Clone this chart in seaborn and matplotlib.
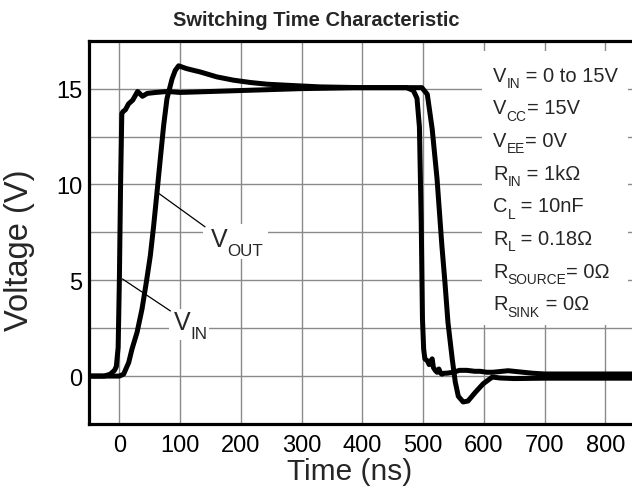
import matplotlib
matplotlib.use("Agg")
import matplotlib.pyplot as plt
from matplotlib.patches import Rectangle
import seaborn as sns

# ---------------- data ----------------
title = "Switching Time Characteristic"
x_label = "Time (ns)"
y_label = "Voltage (V)"

t_in = [-50, -25, -15, -8, -5, -2, 0, 2, 4, 6, 10, 15, 22, 30, 38, 46, 60, 79, 100,
        150, 200, 300, 400, 473, 484, 490, 494, 497, 499, 501, 503, 507, 510, 513,
        515, 517, 520, 523, 526, 529, 531, 535, 539, 550, 560, 572, 585, 594, 605,
        615, 640, 680, 700, 750, 800, 850]
v_in = [0, 0, 0.1, 0.3, 0.5, 1.5, 5, 10, 13.7, 13.8, 13.9, 14.2, 14.4, 14.85, 14.6,
        14.75, 14.8, 14.85, 14.8, 14.85, 14.9, 15.0, 15.05, 15.05, 14.9, 14.5, 13,
        8, 3, 1.4, 0.9, 0.8, 0.6, 0.8, 0.9, 0.45, 0.3, 0.2, 0.37, 0.15, 0.1, 0.15,
        0.15, 0.2, 0.3, 0.3, 0.25, 0.25, 0.2, 0.2, 0.28, 0.15, 0.11, 0.11, 0.11, 0.11]

t_out = [-50, 0, 7, 15.4, 20.8, 29.1, 37.3, 44.4, 51, 56.5, 62, 67.4, 72.9, 78.4,
         86.7, 92, 97.6, 110, 120, 133, 160.7, 188, 215.5, 243, 298, 330.6, 400,
         498, 507, 515, 523, 531, 536, 541, 548, 553, 558, 566, 574, 586, 599, 614,
         627, 650, 700, 750, 800, 850]
v_out = [0, 0, 0.1, 0.71, 1.41, 2.28, 3.5, 4.9, 6.29, 7.86, 9.6, 11.34, 13.08, 14.48,
         15.5, 15.95, 16.19, 16.05, 15.97, 15.87, 15.61, 15.44, 15.32, 15.23, 15.14,
         15.09, 15.05, 15.05, 14.7, 12.9, 10.3, 6.8, 4.9, 2.8, 0.9, -0.3, -1.05,
         -1.35, -1.3, -0.85, -0.4, -0.05, -0.1, -0.13, -0.11, -0.11, -0.11, -0.11]

x_ticks = [0, 100, 200, 300, 400, 500, 600, 700, 800]
y_ticks = [0, 5, 10, 15]
y_minor = [2.5, 7.5, 12.5]

# parameter list: (symbol, subscript, remainder)
param_sym = ["V", "V", "V", "R", "C", "R", "R", "R"]
param_sub = ["IN", "CC", "EE", "IN", "L", "L", "SOURCE", "SINK"]
param_rest = [" = 0 to 15V", "= 15V", "= 0V", " = 1kΩ", " = 10nF", " = 0.18Ω",
              "= 0Ω", " = 0Ω"]

# ---------------- style ----------------
sns.set_theme(style="white")
plt.rcParams['font.family'] = ['Liberation Sans', 'DejaVu Sans']

W, H = 632, 489
fig = plt.figure(figsize=(W / 100, H / 100), dpi=100)
ax_l, ax_r, ax_t, ax_b = 89, 632, 41.7, 425
ax = fig.add_axes([ax_l / W, (H - ax_b) / H, (ax_r - ax_l) / W, (ax_b - ax_t) / H])

ax.set_xlim(-50, 844)
ax.set_ylim(-2.5, 17.5)
ax.set_axisbelow(True)
ax.set_xticks(x_ticks)
ax.set_yticks(y_ticks)
ax.set_yticks(y_minor, minor=True)
ax.grid(True, which='both', color='#8a8a8a', linewidth=1.0)
ax.tick_params(axis='both', which='both', length=0, labelsize=17, colors='black')
ax.tick_params(axis='x', pad=7)
ax.tick_params(axis='y', pad=5)

for s in ['left', 'bottom', 'top']:
    ax.spines[s].set_visible(True)
    ax.spines[s].set_color('black')
    ax.spines[s].set_linewidth(2.3)
ax.spines['right'].set_visible(False)

# white areas that interrupt the grid behind the texts
ax.add_patch(Rectangle((597, 2.67), 240, 14.27, facecolor='white',
                       edgecolor='none', zorder=1))
ax.add_patch(Rectangle((138, 6.1), 106, 1.85, facecolor='white',
                       edgecolor='none', zorder=1))
ax.add_patch(Rectangle((81, 1.9), 67, 1.6, facecolor='white',
                       edgecolor='none', zorder=1))

# curves
sns.lineplot(x=t_out, y=v_out, ax=ax, color='black', linewidth=3.6,
             sort=False, estimator=None, zorder=3,
             solid_joinstyle='round', solid_capstyle='round')
sns.lineplot(x=t_in, y=v_in, ax=ax, color='black', linewidth=3.6,
             sort=False, estimator=None, zorder=3,
             solid_joinstyle='round', solid_capstyle='round')


def sub_label(x, y, main, sub, rest, size):
    """Text with a large, low subscript, as in the reference."""
    subsize = size * 0.68
    drop = size * 0.34
    t1 = ax.text(x, y, main, fontsize=size, va='baseline', ha='left', zorder=5)
    off = 0.212 * (size - subsize) - drop
    t2 = ax.annotate(sub, xy=(1, 0), xycoords=t1, xytext=(0.2, off),
                     textcoords='offset points', fontsize=subsize,
                     va='bottom', ha='left', zorder=5)
    if rest:
        ax.annotate(rest, xy=(1, 0), xycoords=(t2, t1), xytext=(0, 0),
                    textcoords='offset points', fontsize=size,
                    va='bottom', ha='left', zorder=5)


# leader lines and curve labels
ax.plot([61, 141], [9.62, 7.79], color='black', linewidth=0.9, zorder=4)
ax.plot([5, 84], [5.07, 3.4], color='black', linewidth=0.9, zorder=4)
sub_label(150, 6.8, "V", "OUT", "", 18)
sub_label(89, 2.46, "V", "IN", "", 18)

# parameter text
y0 = 15.42
dy = 1.704
for i in range(len(param_sym)):
    sub_label(615, y0 - i * dy, param_sym[i], param_sub[i], param_rest[i], 14.5)

# labels
ax.set_xlabel(x_label, fontsize=21.5)
ax.xaxis.set_label_coords((350 - ax_l) / (ax_r - ax_l), (ax_b - 458) / (ax_b - ax_t))
ax.xaxis.label.set_verticalalignment('top')
ax.set_ylabel(y_label, fontsize=23.5)
ax.yaxis.set_label_coords((20 - ax_l) / (ax_r - ax_l), (ax_b - 250) / (ax_b - ax_t))
ax.yaxis.label.set_verticalalignment('center')

fig.text(0.5, (H - 26) / H, title, fontsize=14.5, fontweight='bold',
         ha='center', va='baseline')

fig.savefig('out.png', dpi=100)
